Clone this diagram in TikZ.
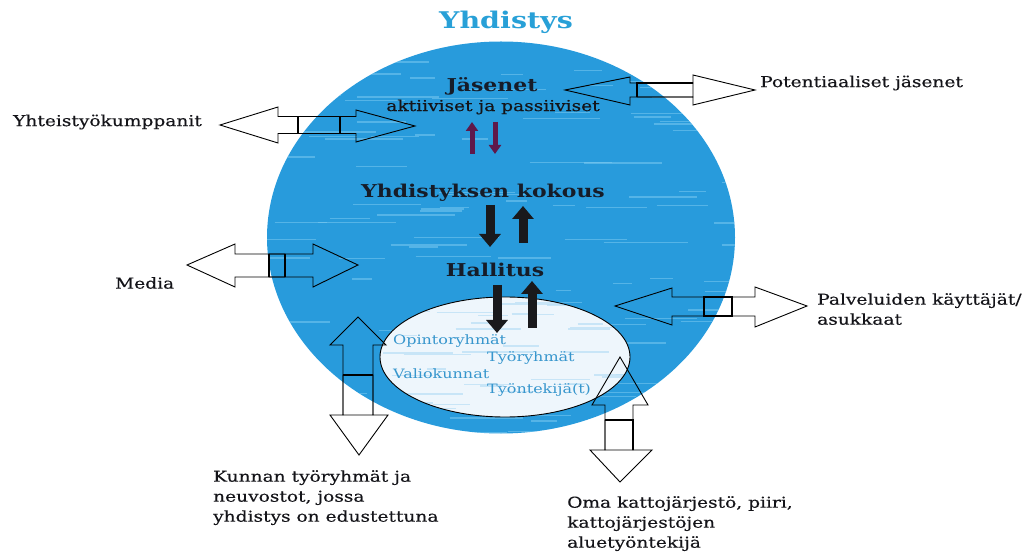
\documentclass[tikz,border=0pt]{standalone}
\usepackage{fontspec}
\setmainfont{DejaVu Serif}[FakeStretch=1.24]
\newfontfamily\lblfont{DejaVu Serif}[FakeStretch=1.24, FakeBold=0.4]
\usetikzlibrary{arrows.meta}
\definecolor{ball}{RGB}{40,155,220}
\definecolor{streak}{RGB}{130,205,242}
\definecolor{innerfill}{RGB}{238,246,252}
\definecolor{innerstreak}{RGB}{185,222,245}
\definecolor{titleblue}{RGB}{40,160,215}
\definecolor{innertext}{RGB}{55,150,205}
\definecolor{txt}{RGB}{20,20,25}
\definecolor{headtxt}{RGB}{22,28,40}
\definecolor{purp}{RGB}{95,25,75}
\definecolor{darkarrow}{RGB}{25,25,28}
\begin{document}
\begin{tikzpicture}[x=1pt,y=-1pt,
  lbl/.style={font=\lblfont\fontsize{15}{20}\selectfont, text=txt, inner sep=0pt, align=left},
  head/.style={font=\bfseries\fontsize{17.7}{20}\selectfont, text=headtxt, inner sep=0pt},
  innerlbl/.style={font=\fontsize{12.9}{16}\selectfont, text=innertext, inner sep=0pt, anchor=west},
  blockarrow/.style={draw=black, line width=0.9pt},
  overlapbox/.style={draw=black, line width=1.8pt},
  smallarrow/.style={draw=purp, line width=5pt, -{Triangle[width=12pt,length=9pt]}},
  fatarrow/.style={draw=darkarrow, line width=9pt, -{Triangle[width=21pt,length=13pt]}}]
\useasboundingbox (0,0) rectangle (1031,553);

% big circle
\fill[ball] (501,237.5) ellipse [x radius=234pt, y radius=196pt];
\begin{scope}
  \clip (501,237.5) ellipse [x radius=234pt, y radius=196pt];
  \pgfmathsetseed{42}
  \foreach \i in {1,...,110}{
    \pgfmathsetmacro\yy{40+395*rnd}
    \pgfmathsetmacro\xa{260+470*rnd}
    \pgfmathsetmacro\ll{15+70*rnd}
    \draw[streak, line width=1.3pt, opacity=0.5] (\xa,\yy) -- ++(\ll,0);
  }
\end{scope}

% inner ellipse
\fill[innerfill] (505,357) ellipse [x radius=125pt, y radius=60pt];
\begin{scope}
  \clip (505,357) ellipse [x radius=125pt, y radius=60pt];
  \pgfmathsetseed{7}
  \foreach \i in {1,...,40}{
    \pgfmathsetmacro\yy{298+120*rnd}
    \pgfmathsetmacro\xa{375+250*rnd}
    \pgfmathsetmacro\ll{15+60*rnd}
    \draw[innerstreak, line width=1.5pt, opacity=0.7] (\xa,\yy) -- ++(\ll,0);
  }
\end{scope}
\draw[black, line width=0.9pt] (505,357) ellipse [x radius=125pt, y radius=60pt];

% title and texts
\node[font=\bfseries\fontsize{23}{26}\selectfont, text=titleblue, inner sep=0pt] (title) at (506,22) {Yhdistys};
\node[head] (jas) at (492,86) {Jäsenet};
\node[lbl] (akt) at (493,107) {aktiiviset ja passiiviset};
\node[head] (kok) at (483,193) {Yhdistyksen kokous};
\node[head] (hal) at (495,270) {Hallitus};

\node[innerlbl] (op) at (393,341) {Opintoryhmät};
\node[innerlbl] (ty) at (487,358) {Työryhmät};
\node[innerlbl] (va) at (393,374) {Valiokunnat};
\node[innerlbl] (tyt) at (487,390) {Työntekijä(t)};

\node[lbl, anchor=west] (pot) at (760,83) {Potentiaaliset jäsenet};
\node[lbl, anchor=west] (yht) at (13,122) {Yhteistyökumppanit};
\node[lbl, anchor=west] (med) at (115,283) {Media};
\node[lbl, anchor=north west] (pal) at (817,293) {Palveluiden käyttäjät/\\asukkaat};
\node[lbl, anchor=north west] (kun) at (213,470) {Kunnan työryhmät ja\\neuvostot, jossa\\yhdistys on edustettuna};
\node[lbl, anchor=north west] (oma) at (567,496) {Oma kattojärjestö, piiri,\\kattojärjestöjen\\aluetyöntekijä};

% double block arrows
% Yhteistyokumppanit
\draw[blockarrow] (220,125) -- (278,107) -- (278,116.5) -- (340,116.5) -- (340,133.5) -- (278,133.5) -- (278,143) -- cycle;
\draw[blockarrow] (415,126) -- (356,110) -- (356,116.5) -- (298,116.5) -- (298,133.5) -- (356,133.5) -- (356,142) -- cycle;
\draw[overlapbox] (298,116.5) rectangle (340,133.5);
% Media
\draw[blockarrow] (187,265) -- (235,244) -- (235,254) -- (285,254) -- (285,277) -- (235,277) -- (235,287) -- cycle;
\draw[blockarrow] (358,265) -- (313,244) -- (313,254) -- (269,254) -- (269,277) -- (313,277) -- (313,287) -- cycle;
\draw[overlapbox] (269,254) -- (269,277) (285,254) -- (285,277);
% Potentiaaliset jasenet
\draw[blockarrow] (565,90) -- (630,77) -- (630,83) -- (693,83) -- (693,97) -- (630,97) -- (630,105) -- cycle;
\draw[blockarrow] (755,90) -- (693,75) -- (693,83) -- (637,83) -- (637,97) -- (693,97) -- (693,105) -- cycle;
\draw[overlapbox] (637,97) -- (637,83) -- (693,83);
% Palveluiden kayttajat
\draw[blockarrow] (615,306) -- (672,288) -- (672,297) -- (732,297) -- (732,316) -- (672,316) -- (672,325) -- cycle;
\draw[blockarrow] (807,306) -- (755,287) -- (755,297) -- (704,297) -- (704,316) -- (755,316) -- (755,327) -- cycle;
\draw[overlapbox] (704,297) rectangle (732,316);
% Kunnan tyoryhmat (vertical)
\draw[blockarrow] (358,317) -- (386,345) -- (373,345) -- (373,415) -- (343,415) -- (343,345) -- (330,345) -- cycle;
\draw[blockarrow] (359,455) -- (388,415) -- (373,415) -- (373,375) -- (343,375) -- (343,415) -- (330,415) -- cycle;
\draw[overlapbox] (343,375) -- (373,375);
% Oma kattojarjesto (vertical)
\draw[blockarrow] (620,357) -- (648,405) -- (633,405) -- (633,450) -- (605,450) -- (605,405) -- (592,405) -- cycle;
\draw[blockarrow] (620,482) -- (652,450) -- (633,450) -- (633,420) -- (605,420) -- (605,450) -- (590,450) -- cycle;
\draw[overlapbox] (605,420) -- (633,420) -- (633,450);

% arrows inside the circle
\coordinate (a1s) at (472,154); \coordinate (a1e) at (472,122);
\coordinate (a2s) at (495,122); \coordinate (a2e) at (495,154);
\draw[smallarrow] (a1s) -- (a1e);
\draw[smallarrow] (a2s) -- (a2e);
\coordinate (b1s) at (490,205); \coordinate (b1e) at (490,247);
\coordinate (b2s) at (523,243); \coordinate (b2e) at (523,206);
\draw[fatarrow] (b1s) -- (b1e);
\draw[fatarrow] (b2s) -- (b2e);
\coordinate (c1s) at (497,285); \coordinate (c1e) at (497,333);
\coordinate (c2s) at (532,328); \coordinate (c2e) at (532,281);
\draw[fatarrow] (c1s) -- (c1e);
\draw[fatarrow] (c2s) -- (c2e);
\end{tikzpicture}
\end{document}
